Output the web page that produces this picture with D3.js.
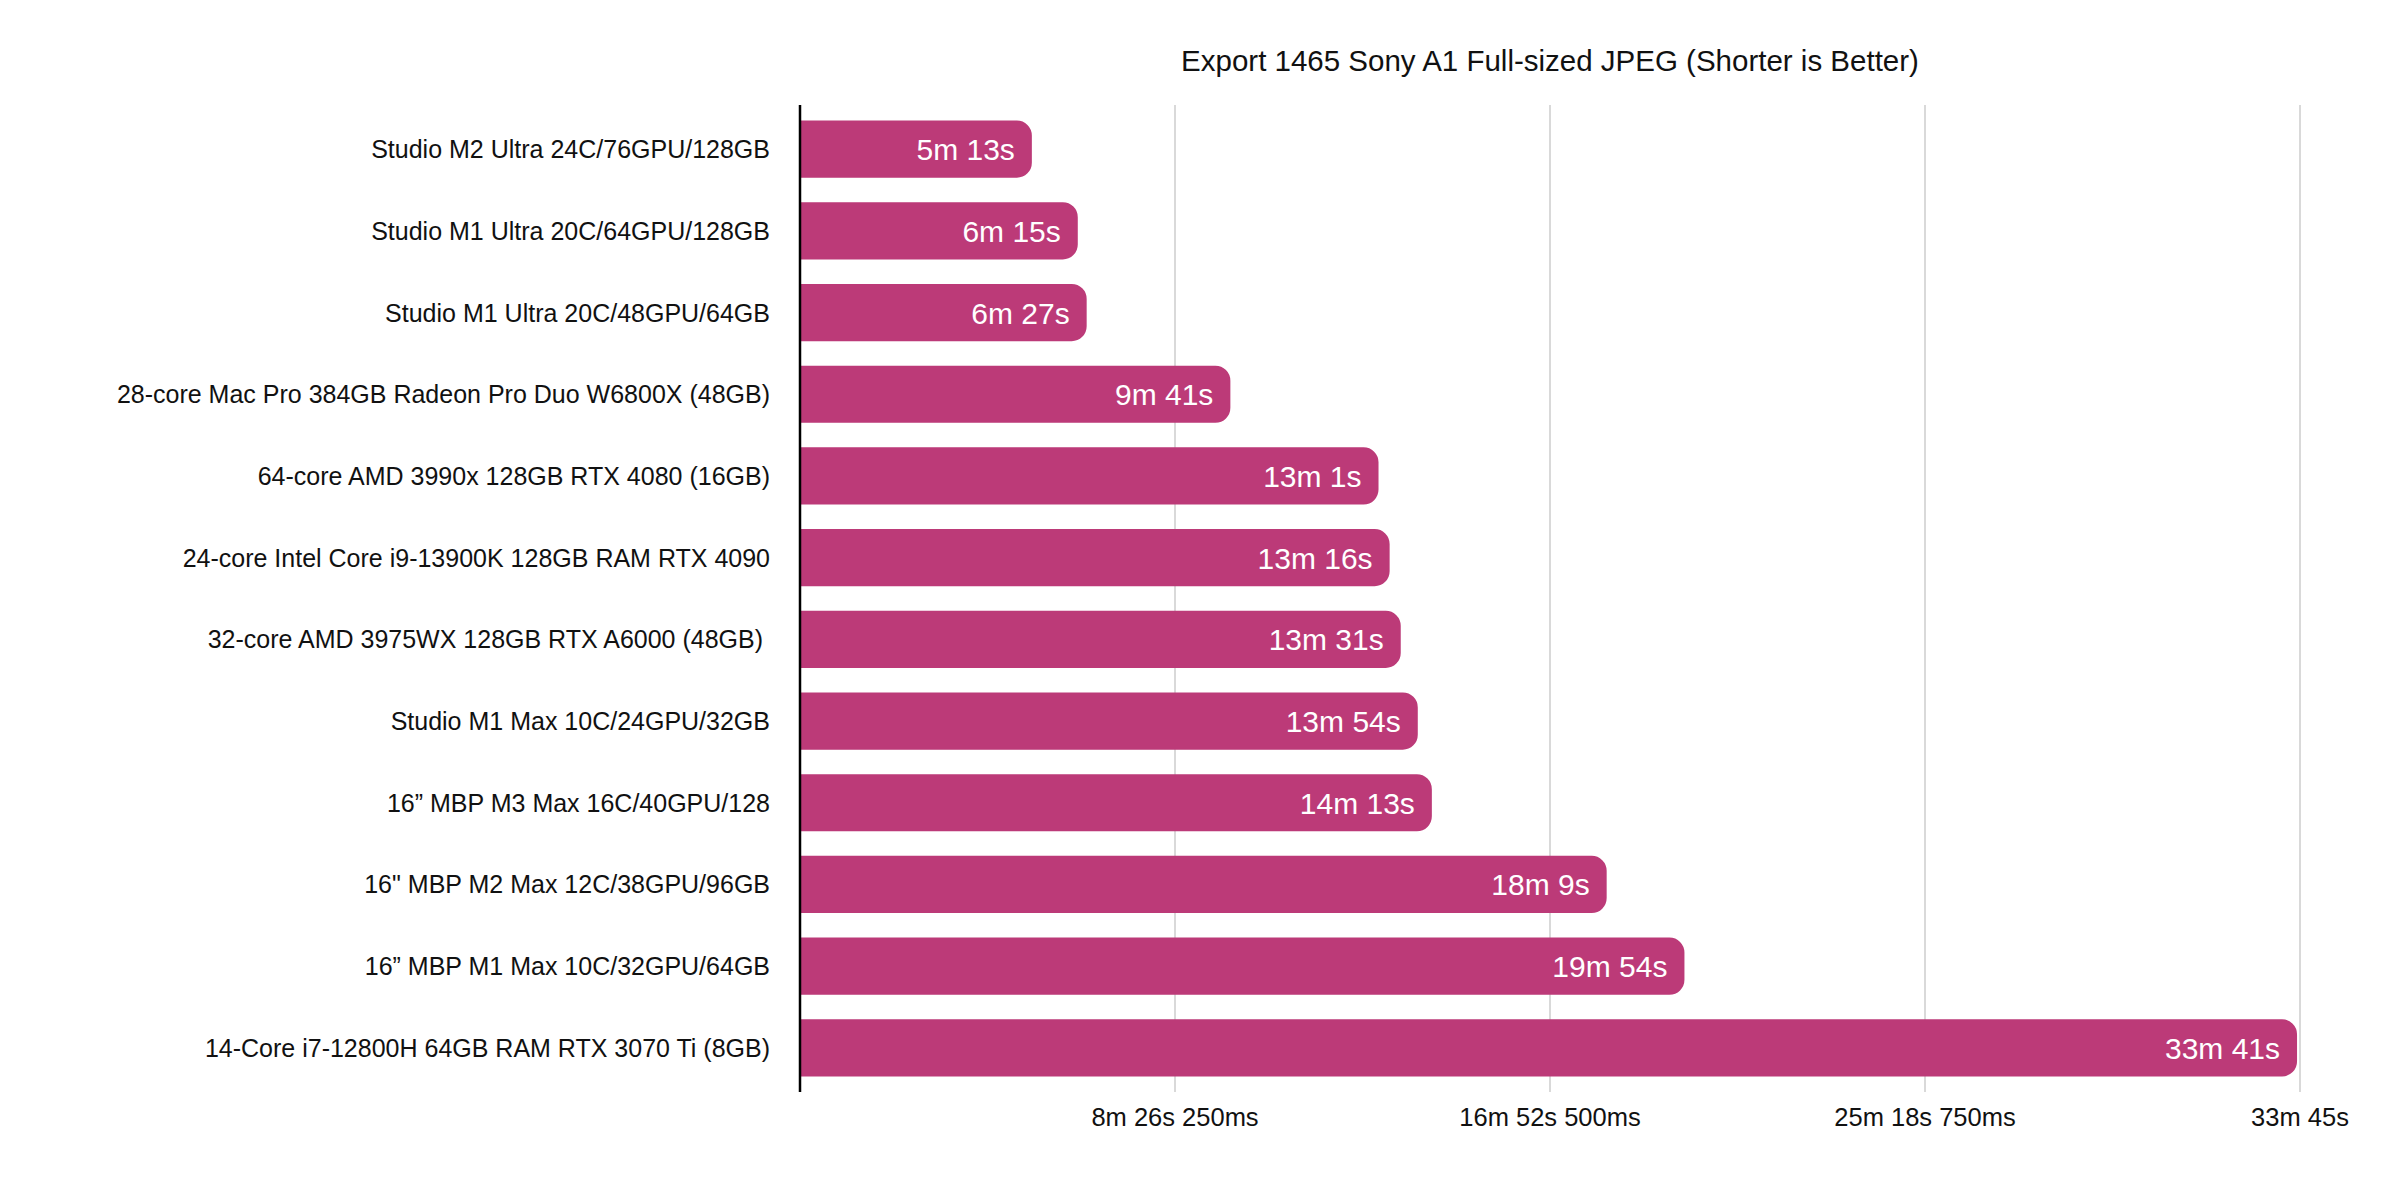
<!DOCTYPE html>
<html lang="en">
<head>
  <meta charset="UTF-8">
  <title>Export 1465 Sony A1 Full-sized JPEG</title>
  <script src="https://d3js.org/d3.v7.min.js"></script>
  <style>
    body {
      margin: 0;
      background: #fff;
      font-family: Helvetica, "Liberation Sans", Arial, sans-serif;
    }
    .grid line {
      stroke: #cccccc;
      stroke-width: 1.5px;
    }
    .cat-label {
      font-size: 25px;
      fill: #111;
    }
    .tick-label {
      font-size: 25.5px;
      fill: #111;
    }
    .value-label {
      font-size: 30px;
      fill: #fff;
    }
    .title {
      font-size: 29.5px;
      fill: #111;
    }
  </style>
</head>
<body>
  <svg id="chart"></svg>

  <script>
    // Chart data
    const machines = [
      "Studio M2 Ultra 24C/76GPU/128GB",
      "Studio M1 Ultra 20C/64GPU/128GB",
      "Studio M1 Ultra 20C/48GPU/64GB",
      "28-core Mac Pro 384GB Radeon Pro Duo W6800X (48GB)",
      "64-core AMD 3990x 128GB RTX 4080 (16GB)",
      "24-core Intel Core i9-13900K 128GB RAM RTX 4090",
      "32-core AMD 3975WX 128GB RTX A6000 (48GB)\u00a0",
      "Studio M1 Max 10C/24GPU/32GB",
      "16\u201d MBP M3 Max 16C/40GPU/128",
      "16\" MBP M2 Max 12C/38GPU/96GB",
      "16\u201d MBP M1 Max 10C/32GPU/64GB",
      "14-Core i7-12800H 64GB RAM RTX 3070 Ti (8GB)"
    ];

    // export time in seconds
    const exportSeconds = [313, 375, 387, 581, 781, 796, 811, 834, 853, 1089, 1194, 2021];

    // axis ticks in seconds (8m 26.25s steps)
    const tickSeconds = [506.25, 1012.5, 1518.75, 2025];
    const axisMax = 2025;

    const title = "Export 1465 Sony A1 Full-sized JPEG (Shorter is Better)";

    const W = 2400, H = 1200;
    const plot = {left: 800, right: 2300, top: 105, bottom: 1092};
    const barColor = "#bc3a78";

    const svg = d3.select("#chart")
      .attr("width", W)
      .attr("height", H);

    const x = d3.scaleLinear()
      .domain([0, axisMax])
      .range([plot.left, plot.right]);

    const y = d3.scaleBand()
      .domain(machines)
      .range([plot.top, plot.bottom])
      .paddingInner(0.3)
      .paddingOuter(0.19);

    // format seconds like "8m 26s 250ms"
    function fmtTime(sec) {
      const m = Math.floor(sec / 60);
      const s = Math.floor(sec - m * 60);
      const ms = Math.round((sec - m * 60 - s) * 1000);
      let out = `${m}m ${s}s`;
      if (ms > 0) out += ` ${ms}ms`;
      return out;
    }

    // Gridlines
    svg.append("g")
      .attr("class", "grid")
      .selectAll("line")
      .data(tickSeconds)
      .join("line")
      .attr("x1", d => x(d))
      .attr("x2", d => x(d))
      .attr("y1", plot.top)
      .attr("y2", plot.bottom);

    // Tick labels
    svg.append("g")
      .selectAll("text")
      .data(tickSeconds)
      .join("text")
      .attr("class", "tick-label")
      .attr("x", d => x(d))
      .attr("y", 1126)
      .attr("text-anchor", "middle")
      .text(d => fmtTime(d));

    // Bars: square on the left, rounded on the right
    const r = 15;
    function barPath(d, i) {
      const x0 = x(0), x1 = x(exportSeconds[i]);
      const y0 = y(d), h = y.bandwidth();
      const rr = Math.min(r, (x1 - x0) / 2, h / 2);
      return `M${x0},${y0}H${x1 - rr}A${rr},${rr} 0 0 1 ${x1},${y0 + rr}` +
        `V${y0 + h - rr}A${rr},${rr} 0 0 1 ${x1 - rr},${y0 + h}H${x0}Z`;
    }

    svg.append("g")
      .selectAll("path")
      .data(machines)
      .join("path")
      .attr("d", barPath)
      .attr("fill", barColor);

    // Value labels inside bars
    svg.append("g")
      .selectAll("text")
      .data(machines)
      .join("text")
      .attr("class", "value-label")
      .attr("x", (d, i) => x(exportSeconds[i]) - 17)
      .attr("y", d => y(d) + y.bandwidth() / 2 + 11)
      .attr("text-anchor", "end")
      .text((d, i) => fmtTime(exportSeconds[i]));

    // Category labels
    svg.append("g")
      .selectAll("text")
      .data(machines)
      .join("text")
      .attr("class", "cat-label")
      .attr("x", plot.left - 30)
      .attr("y", d => y(d) + y.bandwidth() / 2 + 9)
      .attr("text-anchor", "end")
      .style("white-space", "pre")
      .text(d => d);

    // Axis line
    svg.append("line")
      .attr("x1", plot.left)
      .attr("x2", plot.left)
      .attr("y1", plot.top)
      .attr("y2", plot.bottom)
      .attr("stroke", "#000")
      .attr("stroke-width", 2.5);

    // Title
    svg.append("text")
      .attr("class", "title")
      .attr("x", (plot.left + plot.right) / 2)
      .attr("y", 71)
      .attr("text-anchor", "middle")
      .text(title);
  </script>
</body>
</html>
